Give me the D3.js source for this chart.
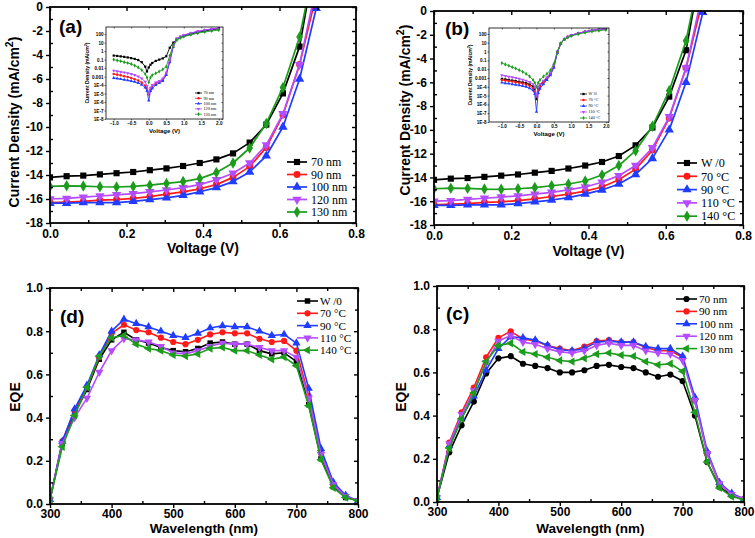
<!DOCTYPE html>
<html><head><meta charset="utf-8">
<script src="https://cdn.jsdelivr.net/npm/d3@7"></script>
<style>body{margin:0;background:#fff}svg{display:block}</style>
</head><body><svg id="c" width="755" height="538"></svg>
<script>
// ---------- J-V data (panels a, b) ----------
const jvVolt = [0, 0.0435, 0.087, 0.1305, 0.174, 0.2175, 0.261, 0.3045, 0.348, 0.3915, 0.435, 0.4785, 0.522, 0.5655, 0.609, 0.6525, 0.696];
const jvBlack  = [-14.2, -14.1, -14.05, -13.95, -13.85, -13.75, -13.6, -13.45, -13.25, -13.0, -12.7, -12.2, -11.3, -9.8, -7.2, -3.3, 4.5];
const jvRed    = [-16.3, -16.25, -16.2, -16.1, -16.05, -15.95, -15.8, -15.6, -15.4, -15.15, -14.8, -14.2, -13.3, -11.7, -9.0, -4.8, 1.0];
const jvBlue   = [-16.35, -16.35, -16.3, -16.3, -16.3, -16.2, -16.05, -15.9, -15.7, -15.4, -15.05, -14.55, -13.75, -12.4, -10.0, -6.0, -0.1];
const jvPurple = [-16.0, -15.95, -15.85, -15.75, -15.65, -15.55, -15.4, -15.25, -15.05, -14.8, -14.4, -13.85, -13.0, -11.5, -8.9, -4.8, 1.7];
const jvGreen  = [-14.95, -14.9, -14.92, -14.98, -15.0, -14.95, -14.85, -14.7, -14.55, -14.3, -13.8, -13.0, -11.75, -9.7, -6.7, -2.5, 4.3];
const jvLabelsA = ["70 nm", "90 nm", "100 nm", "120 nm", "130 nm"];
const jvLabelsB = ["W /0", "70 \u00B0C", "90 \u00B0C", "110 \u00B0C", "140 \u00B0C"];
const jvXTicks = [0, 0.2, 0.4, 0.6, 0.8];
const jvYTicks = [0, -2, -4, -6, -8, -10, -12, -14, -16, -18];

// ---------- inset dark J-V (log) ----------
const insV = [-1.0, -0.9, -0.8, -0.7, -0.6, -0.5, -0.4, -0.3, -0.2, -0.1, -0.05, 0, 0.05, 0.1, 0.2, 0.3, 0.4, 0.5, 0.6, 0.7, 0.8, 0.9, 1.0, 1.2, 1.4, 1.6, 1.8, 2.0];
const insA70  = [0.3, 0.27, 0.24, 0.21, 0.18, 0.15, 0.12, 0.09, 0.05, 0.015, 0.004, 0.012, 0.025, 0.04, 0.07, 0.1, 0.14, 0.25, 2.5, 10, 25, 40, 60, 100, 160, 240, 330, 420];
const insA90  = [0.002, 0.0017, 0.0014, 0.0011, 9e-4, 7e-4, 5e-4, 3.5e-4, 2e-4, 9e-5, 4e-5, 8e-6, 3e-5, 6e-5, 1.5e-4, 2.5e-4, 4e-4, 0.002, 0.08, 4, 28, 48, 75, 130, 210, 300, 400, 500];
const insA100 = [7e-4, 6e-4, 5e-4, 4.3e-4, 3.6e-4, 3e-4, 2.4e-4, 1.8e-4, 1.1e-4, 5e-5, 2e-5, 1.5e-6, 2e-5, 4e-5, 1e-4, 1.8e-4, 3e-4, 0.0015, 0.05, 3, 25, 45, 70, 125, 200, 290, 390, 490];
const insA120 = [0.005, 0.0042, 0.0035, 0.003, 0.0025, 0.002, 0.0015, 0.001, 6e-4, 2.5e-4, 8e-5, 1e-5, 5e-5, 1e-4, 2e-4, 3e-4, 6e-4, 0.003, 0.1, 5, 30, 50, 80, 140, 220, 320, 420, 520];
const insA130 = [0.1, 0.08, 0.065, 0.05, 0.04, 0.03, 0.02, 0.012, 0.006, 0.002, 8e-4, 2e-4, 8e-4, 0.0015, 0.0025, 0.004, 0.007, 0.015, 0.3, 5, 20, 35, 50, 85, 130, 180, 240, 300];
const insBwo  = [8e-4, 7e-4, 6e-4, 5.2e-4, 4.5e-4, 3.8e-4, 3.2e-4, 2.6e-4, 1.9e-4, 1.1e-4, 5e-5, 4e-6, 6e-5, 1.5e-4, 4e-4, 0.001, 0.003, 0.02, 0.8, 8, 25, 45, 70, 120, 180, 250, 320, 400];
const insB70  = [6e-4, 5.2e-4, 4.5e-4, 3.9e-4, 3.3e-4, 2.8e-4, 2.3e-4, 1.8e-4, 1.3e-4, 7e-5, 3e-5, 8e-6, 4e-5, 1e-4, 3e-4, 8e-4, 0.0025, 0.02, 0.8, 8, 25, 45, 70, 120, 180, 250, 320, 400];
const insB90  = [3e-4, 2.6e-4, 2.3e-4, 2e-4, 1.7e-4, 1.5e-4, 1.2e-4, 1e-4, 7e-5, 4e-5, 1.5e-5, 1.5e-7, 2e-5, 6e-5, 2e-4, 6e-4, 0.002, 0.015, 0.7, 8, 25, 45, 70, 120, 180, 250, 320, 400];
const insB110 = [0.002, 0.0017, 0.0014, 0.0012, 0.001, 8e-4, 6.5e-4, 5e-4, 3.5e-4, 2e-4, 1e-4, 1e-5, 1e-4, 2e-4, 5e-4, 0.0012, 0.004, 0.03, 1, 9, 27, 48, 75, 125, 185, 250, 320, 400];
const insB140 = [0.05, 0.035, 0.025, 0.017, 0.012, 0.008, 0.005, 0.003, 0.0015, 6e-4, 3e-4, 1e-4, 3e-4, 6e-4, 0.0015, 0.003, 0.008, 0.04, 1, 9, 25, 40, 60, 95, 140, 190, 240, 290];
const insXTicks = [-1.0, -0.5, 0.0, 0.5, 1.0, 1.5, 2.0];
const insYTicks = [100, 10, 1, 0.1, 0.01, 0.001, 1e-4, 1e-5, 1e-6, 1e-7, 1e-8];

// ---------- EQE data (panels d, c) ----------
const wl = [300, 320, 340, 360, 380, 400, 420, 440, 460, 480, 500, 520, 540, 560, 580, 600, 620, 640, 660, 680, 700, 720, 740, 760, 780, 800];
const eqeDwo  = [0.02, 0.28, 0.42, 0.53, 0.67, 0.76, 0.795, 0.76, 0.745, 0.725, 0.71, 0.705, 0.72, 0.745, 0.75, 0.74, 0.74, 0.71, 0.695, 0.70, 0.66, 0.46, 0.21, 0.08, 0.03, 0.015];
const eqeD70  = [0.02, 0.29, 0.43, 0.54, 0.68, 0.79, 0.83, 0.805, 0.795, 0.77, 0.75, 0.74, 0.76, 0.785, 0.795, 0.79, 0.79, 0.765, 0.75, 0.755, 0.71, 0.50, 0.235, 0.09, 0.035, 0.015];
const eqeD90  = [0.02, 0.29, 0.44, 0.55, 0.69, 0.80, 0.855, 0.835, 0.82, 0.80, 0.78, 0.77, 0.79, 0.815, 0.825, 0.82, 0.82, 0.80, 0.78, 0.785, 0.745, 0.535, 0.255, 0.10, 0.04, 0.015];
const eqeD110 = [0.02, 0.28, 0.40, 0.49, 0.61, 0.71, 0.765, 0.76, 0.75, 0.73, 0.70, 0.695, 0.71, 0.73, 0.745, 0.74, 0.74, 0.725, 0.71, 0.71, 0.68, 0.49, 0.23, 0.09, 0.035, 0.015];
const eqeD140 = [0.02, 0.265, 0.41, 0.54, 0.685, 0.77, 0.78, 0.74, 0.72, 0.71, 0.69, 0.685, 0.695, 0.72, 0.725, 0.71, 0.71, 0.69, 0.67, 0.68, 0.64, 0.455, 0.205, 0.075, 0.03, 0.015];
const eqeC70  = [0.02, 0.23, 0.355, 0.465, 0.595, 0.665, 0.675, 0.64, 0.63, 0.62, 0.60, 0.60, 0.61, 0.63, 0.635, 0.625, 0.62, 0.60, 0.58, 0.59, 0.56, 0.40, 0.185, 0.07, 0.03, 0.012];
const eqeC90  = [0.02, 0.275, 0.415, 0.53, 0.67, 0.76, 0.79, 0.755, 0.745, 0.725, 0.71, 0.70, 0.72, 0.745, 0.75, 0.74, 0.74, 0.715, 0.70, 0.70, 0.67, 0.47, 0.225, 0.085, 0.035, 0.013];
const eqeC100 = [0.02, 0.26, 0.39, 0.49, 0.61, 0.71, 0.765, 0.76, 0.75, 0.725, 0.705, 0.70, 0.71, 0.74, 0.745, 0.74, 0.74, 0.72, 0.71, 0.71, 0.675, 0.485, 0.235, 0.09, 0.04, 0.015];
const eqeC120 = [0.02, 0.27, 0.405, 0.515, 0.645, 0.745, 0.77, 0.74, 0.73, 0.71, 0.695, 0.69, 0.70, 0.725, 0.735, 0.725, 0.725, 0.70, 0.69, 0.685, 0.655, 0.47, 0.225, 0.085, 0.035, 0.013];
const eqeC130 = [0.02, 0.25, 0.385, 0.505, 0.65, 0.725, 0.735, 0.695, 0.685, 0.67, 0.655, 0.65, 0.665, 0.685, 0.69, 0.68, 0.675, 0.65, 0.635, 0.64, 0.605, 0.415, 0.185, 0.065, 0.025, 0.01];
const eqeLabelsD = ["W /0", "70 \u00B0C", "90 \u00B0C", "110 \u00B0C", "140 \u00B0C"];
const eqeLabelsC = ["70 nm", "90 nm", "100 nm", "120 nm", "130 nm"];
const eqeXTicks = [300, 400, 500, 600, 700, 800];
const eqeYTicks = [0, 0.2, 0.4, 0.6, 0.8, 1.0];

// ---------- drawing ----------
const svg = d3.select("#c");
const SANS = "'Liberation Sans', Arial, sans-serif";
const SERIF = "'Liberation Serif', 'Times New Roman', serif";
const COL = {k: "#000000", r: "#ff1a1a", b: "#1f3cff", p: "#b64cff", g: "#1c9c1c"};
let clipId = 0;

function symPath(kind, size) {
  const t = {square: d3.symbolSquare, circle: d3.symbolCircle, up: d3.symbolTriangle, down: d3.symbolTriangle, left: d3.symbolTriangle, diamond: d3.symbolDiamond}[kind];
  return d3.symbol().type(t).size(size)();
}
function symRot(kind) { return kind === "down" ? 180 : kind === "left" ? -90 : 0; }

function axes(g, x, y, o) {
  const [xa, xb] = x.range(), [yb, ya] = y.range();
  function ax(gen, tr, vals, len, fmt, pad) {
    const a = g.append("g").attr("transform", tr)
      .call(gen.tickValues(vals).tickSize(len).tickPadding(pad).tickFormat(fmt));
    a.select(".domain").remove();
    a.selectAll("line").attr("stroke", "#000").attr("stroke-width", o.tw);
    a.selectAll("text").attr("font-family", SANS).attr("font-weight", "bold")
      .attr("font-size", o.fs).attr("fill", "#000");
    return a;
  }
  const none = () => "";
  ax(d3.axisBottom(x), `translate(0,${yb})`, o.xMaj, o.tl, o.xFmt, o.xPad);
  ax(d3.axisLeft(y), `translate(${xa},0)`, o.yMaj, o.tl, o.yFmt, o.yPad);
  ax(d3.axisTop(x), `translate(0,${ya})`, o.xMaj, -o.tl, none, 0);
  ax(d3.axisRight(y), `translate(${xb},0)`, o.yMaj, -o.tl, none, 0);
  if (o.xMin) {
    ax(d3.axisBottom(x), `translate(0,${yb})`, o.xMin, -o.tm, none, 0);
    ax(d3.axisTop(x), `translate(0,${ya})`, o.xMin, -o.tm, none, 0);
  }
  if (o.yMin) {
    ax(d3.axisLeft(y), `translate(${xa},0)`, o.yMin, -o.tm, none, 0);
    ax(d3.axisRight(y), `translate(${xb},0)`, o.yMin, -o.tm, none, 0);
  }
  g.append("rect").attr("x", xa).attr("y", ya).attr("width", xb - xa).attr("height", yb - ya)
    .attr("fill", "none").attr("stroke", "#000").attr("stroke-width", o.fw);
}

function series(g, x, y, xs, list, o) {
  const [xa, xb] = x.range(), [yb, ya] = y.range();
  const id = "clip" + (clipId++);
  g.append("clipPath").attr("id", id).append("rect")
    .attr("x", xa).attr("y", ya).attr("width", xb - xa).attr("height", yb - ya);
  const cg = g.append("g").attr("clip-path", `url(#${id})`);
  const line = d3.line().x(d => x(d[0])).y(d => y(d[1]));
  list.forEach(s => {
    const pts = xs.map((v, i) => [v, s.v[i]]);
    cg.append("path").attr("d", line(pts)).attr("fill", "none")
      .attr("stroke", s.c).attr("stroke-width", o.lw).attr("stroke-linejoin", "round");
    const p = symPath(s.m, o.ms), r = symRot(s.m);
    cg.selectAll(null).data(pts).join("path").attr("d", p).attr("fill", s.c)
      .attr("transform", d => `translate(${x(d[0])},${y(d[1])}) rotate(${r})`);
  });
}

function legend(g, list, labels, x0, y0, dy, len, tx, fs, ms, lw, font, weight) {
  list.forEach((s, i) => {
    const yy = y0 + i * dy;
    g.append("line").attr("x1", x0).attr("x2", x0 + len).attr("y1", yy).attr("y2", yy)
      .attr("stroke", s.c).attr("stroke-width", lw);
    g.append("path").attr("d", symPath(s.m, ms)).attr("fill", s.c)
      .attr("transform", `translate(${x0 + len / 2},${yy}) rotate(${symRot(s.m)})`);
    g.append("text").attr("x", x0 + len + tx).attr("y", yy).attr("dy", "0.35em")
      .attr("font-family", font).attr("font-weight", weight || "normal")
      .attr("font-size", fs).attr("fill", "#000").text(labels[i]);
  });
}

function yTitleJ(g, x, y, fs) {
  const t = g.append("text").attr("transform", `translate(${x},${y}) rotate(-90)`)
    .attr("text-anchor", "middle").attr("font-family", SANS).attr("font-weight", "bold")
    .attr("font-size", fs).attr("fill", "#000");
  t.append("tspan").text("Current Density (mA/cm");
  t.append("tspan").attr("dy", -fs * 0.45).attr("font-size", fs * 0.75).text("2");
  t.append("tspan").attr("dy", fs * 0.45).text(")");
}
function text(g, x, y, s, fs, o = {}) {
  const t = g.append("text").attr("x", x).attr("y", y).attr("font-family", o.font || SANS)
    .attr("font-weight", o.weight || "bold").attr("font-size", fs).attr("fill", "#000")
    .attr("text-anchor", o.anchor || "middle").text(s);
  if (o.rot) t.attr("transform", `rotate(-90,${x},${y})`);
  return t;
}

const f1 = d3.format(".1f");
const fInt = d => String(d);
const fLog = d => d >= 0.001 ? String(d) : "1E" + Math.round(Math.log10(d));

// ---- J-V panel ----
function jvPanel(box, inset, labels, letterPos, titles, insData, insLabels, insLeg) {
  const g = svg.append("g");
  const x = d3.scaleLinear().domain([0, 0.8]).range([box.x0, box.x1]);
  const y = d3.scaleLinear().domain([-18, 0]).range([box.y1, box.y0]);
  const list = [
    {v: jvBlack, c: COL.k, m: "square"},
    {v: jvRed, c: COL.r, m: "circle"},
    {v: jvBlue, c: COL.b, m: "up"},
    {v: jvPurple, c: COL.p, m: "down"},
    {v: jvGreen, c: COL.g, m: "diamond"}
  ];
  series(g, x, y, jvVolt, list, {lw: 1.7, ms: 38});
  axes(g, x, y, {xMaj: jvXTicks, xMin: [0.1, 0.3, 0.5, 0.7], yMaj: jvYTicks, yMin: [-1, -3, -5, -7, -9, -11, -13, -15, -17],
    tl: 4, tm: 3, tw: 1.4, fw: 1.8, fs: 12, xFmt: f1, yFmt: fInt, xPad: 2, yPad: 3});
  legend(g, list, labels, box.legX, box.legY, box.legDy, 20, 4, box.legFs, 38, 1.7, SERIF);
  text(g, letterPos[0], letterPos[1], box.letter, 19, {anchor: "start"});
  text(g, (box.x0 + box.x1) / 2, titles[0], "Voltage (V)", 14);
  yTitleJ(g, titles[1], titles[2], 14);

  // inset
  const ig = svg.append("g");
  const ix = d3.scaleLinear().domain(inset.xd).range([inset.x0, inset.x1]);
  const iy = d3.scaleLog().domain([1e-8, inset.ytop]).range([inset.y1, inset.y0]);
  const ilist = [
    {v: insData[0], c: COL.k, m: "square"},
    {v: insData[1], c: COL.r, m: "circle"},
    {v: insData[2], c: COL.b, m: "up"},
    {v: insData[3], c: COL.p, m: "down"},
    {v: insData[4], c: COL.g, m: "diamond"}
  ];
  series(ig, ix, iy, insV, ilist, {lw: 0.9, ms: 5});
  axes(ig, ix, iy, {xMaj: insXTicks, yMaj: insYTicks, tl: 1.5, tm: 1, tw: 0.6, fw: 0.8, fs: 4.6,
    xFmt: f1, yFmt: fLog, xPad: 1.5, yPad: 1});
  legend(ig, ilist, insLabels, insLeg[0], insLeg[1], insLeg[2], 7, 1.5, 4.2, 5, 0.8, SERIF);
  text(ig, (inset.x0 + inset.x1) / 2, inset.y1 + 13.5, "Voltage (V)", 6);
  yTitleJ(ig, inset.x0 - 17, (inset.y0 + inset.y1) / 2, 5);
}

jvPanel({x0: 50, x1: 356, y0: 7, y1: 223, letter: "(a)", legX: 287, legY: 162, legDy: 12.5, legFs: 12},
  {x0: 106, x1: 223, y0: 27, y1: 119, xd: [-1.22, 2.12], ytop: 700},
  jvLabelsA, [59, 33], [253, 19, 122],
  [insA70, insA90, insA100, insA120, insA130], jvLabelsA, [195, 93, 5.3]);

jvPanel({x0: 434, x1: 743, y0: 11, y1: 225, letter: "(b)", legX: 677, legY: 163, legDy: 13.3, legFs: 12.2},
  {x0: 489, x1: 609, y0: 28, y1: 122, xd: [-1.37, 2.09], ytop: 480},
  jvLabelsB, [445, 35], [256, 410, 110],
  [insBwo, insB70, insB90, insB110, insB140], jvLabelsB, [580, 94, 6]);

// ---- EQE panel ----
function eqePanel(box, list, labels) {
  const g = svg.append("g");
  const x = d3.scaleLinear().domain([300, 800]).range([box.x0, box.x1]);
  const y = d3.scaleLinear().domain([0, 1]).range([box.y1, box.y0]);
  series(g, x, y, wl, list, {lw: 1.6, ms: 30});
  axes(g, x, y, {xMaj: eqeXTicks, xMin: [350, 450, 550, 650, 750], yMaj: eqeYTicks, yMin: [0.1, 0.3, 0.5, 0.7, 0.9],
    tl: 4, tm: 3, tw: 1.4, fw: 1.8, fs: 12, xFmt: fInt, yFmt: f1, xPad: 1, yPad: 3});
  legend(g, list, labels, box.legX, box.legY, box.legDy, 21, 2, 11.2, 30, 1.6, SERIF);
  text(g, box.lx, box.ly, box.letter, 19, {anchor: "start"});
  text(g, (box.x0 + box.x1) / 2, 533, "Wavelength (nm)", 13.5);
  text(g, box.tx, 397, "EQE", 14, {rot: true});
}

eqePanel({x0: 50, x1: 358, y0: 288, y1: 504, letter: "(d)", lx: 60, ly: 323, legX: 297, legY: 301, legDy: 12.3, tx: 20},
  [{v: eqeDwo, c: COL.k, m: "square"}, {v: eqeD70, c: COL.r, m: "circle"}, {v: eqeD90, c: COL.b, m: "up"},
   {v: eqeD110, c: COL.p, m: "down"}, {v: eqeD140, c: COL.g, m: "left"}], eqeLabelsD);

eqePanel({x0: 437, x1: 744, y0: 286, y1: 502, letter: "(c)", lx: 446, ly: 320, legX: 676, legY: 299, legDy: 12.4, tx: 406},
  [{v: eqeC70, c: COL.k, m: "circle"}, {v: eqeC90, c: COL.r, m: "circle"}, {v: eqeC100, c: COL.b, m: "up"},
   {v: eqeC120, c: COL.p, m: "down"}, {v: eqeC130, c: COL.g, m: "left"}], eqeLabelsC);
</script>
</body></html>
